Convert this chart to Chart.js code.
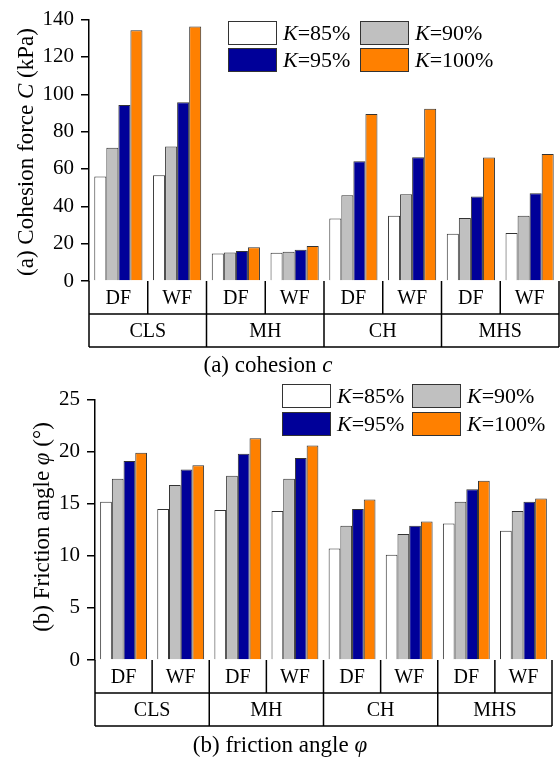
<!DOCTYPE html>
<html>
<head>
<meta charset="utf-8">
<script src="https://cdn.jsdelivr.net/npm/chart.js@4.4.1/dist/chart.umd.min.js"></script>
<style>
  body { margin: 0; background: #fff; }
  canvas { display: block; }
</style>
</head>
<body>
<canvas id="chartA" width="560" height="380"></canvas>
<canvas id="chartB" width="560" height="381"></canvas>
<script>
// categories
const soils = ['CLS', 'MH', 'CH', 'MHS'];
const states = ['DF', 'WF'];
const kLevels = ['85%', '90%', '95%', '100%'];
const categories = ['CLS-DF', 'CLS-WF', 'MH-DF', 'MH-WF', 'CH-DF', 'CH-WF', 'MHS-DF', 'MHS-WF'];

// cohesion C (kPa)
const cohesionK85 = [56.0, 56.7, 14.7, 15.1, 33.5, 34.9, 25.3, 25.7];
const cohesionK90 = [71.4, 72.1, 15.2, 15.6, 45.9, 46.4, 33.7, 34.9];
const cohesionK95 = [94.3, 95.7, 16.1, 16.7, 64.1, 66.3, 45.2, 47.0];
const cohesionK100 = [134.3, 136.3, 18.1, 18.8, 89.5, 92.3, 66.1, 68.0];

// friction angle (deg)
const frictionK85 = [15.2, 14.5, 14.4, 14.3, 10.7, 10.1, 13.1, 12.4];
const frictionK90 = [17.4, 16.8, 17.7, 17.4, 12.9, 12.1, 15.2, 14.3];
const frictionK95 = [19.1, 18.3, 19.8, 19.4, 14.5, 12.9, 16.4, 15.2];
const frictionK100 = [19.9, 18.7, 21.3, 20.6, 15.4, 13.3, 17.2, 15.5];

const colors = ['#ffffff', '#c0c0c0', '#000099', '#ff8000'];
const FONT = "'Liberation Serif', 'Times New Roman', serif";

function makeDatasets(series) {
    return series.map((data, i) => ({
        label: 'K=' + kLevels[i],
        data: data,
        backgroundColor: colors[i],
        borderColor: '#333333',
        borderWidth: 1,
        borderSkipped: 'bottom',
        categoryPercentage: 0.82,
        barPercentage: 1.0
    }));
}

// draw a line of text made of normal / italic parts
function drawRich(ctx, parts, x, y, size, align) {
    let total = 0;
    parts.forEach(p => {
        ctx.font = (p.italic ? 'italic ' : '') + size + 'px ' + FONT;
        total += ctx.measureText(p.text).width;
    });
    let cx = align === 'center' ? x - total / 2 : x;
    ctx.textAlign = 'left';
    ctx.textBaseline = 'middle';
    parts.forEach(p => {
        ctx.font = (p.italic ? 'italic ' : '') + size + 'px ' + FONT;
        ctx.fillText(p.text, cx, y);
        cx += ctx.measureText(p.text).width;
    });
}

// plugin: table under the x axis, legend, captions, y title
const decorPlugin = {
    id: 'decor',
    afterDraw(chart, args, opts) {
        const ctx = chart.ctx;
        const area = chart.chartArea;
        const xs = chart.scales.x;
        const n = categories.length;
        const step = (area.right - area.left) / n;
        const top = area.bottom;
        const mid = top + opts.rowH;
        const bot = mid + opts.rowH;

        ctx.save();
        ctx.strokeStyle = '#000';
        ctx.lineWidth = 1.5;
        ctx.beginPath();
        ctx.moveTo(area.left, mid); ctx.lineTo(area.right, mid);
        ctx.moveTo(area.left, bot); ctx.lineTo(area.right, bot);
        for (let i = 0; i <= n; i++) {
            const x = area.left + i * step;
            ctx.moveTo(x, top);
            ctx.lineTo(x, (i % 2 === 0) ? bot : mid);
        }
        ctx.stroke();

        ctx.fillStyle = '#000';
        ctx.textAlign = 'center';
        ctx.textBaseline = 'middle';
        ctx.font = '20px ' + FONT;
        categories.forEach((c, i) => {
            const x = xs.getPixelForValue(i);
            ctx.fillText(states[i % 2], x, (top + mid) / 2 + 1);
        });
        soils.forEach((s, j) => {
            const x = (xs.getPixelForValue(2 * j) + xs.getPixelForValue(2 * j + 1)) / 2;
            ctx.fillText(s, x, (mid + bot) / 2 + 1);
        });

        // caption
        drawRich(ctx, opts.caption, opts.captionX, opts.captionY, 23, 'center');

        // y title
        ctx.save();
        ctx.translate(opts.titleX, opts.titleY);
        ctx.rotate(-Math.PI / 2);
        drawRich(ctx, opts.yTitle, 0, 0, 23, 'center');
        ctx.restore();

        // legend
        const L = opts.legend;
        chart.data.datasets.forEach((ds, i) => {
            const col = i % 2, row = Math.floor(i / 2);
            const bx = L.x[col], by = L.y[row];
            ctx.fillStyle = ds.backgroundColor;
            ctx.fillRect(bx, by, L.w, L.h);
            ctx.strokeStyle = '#333';
            ctx.lineWidth = 1;
            ctx.strokeRect(bx + 0.5, by + 0.5, L.w - 1, L.h - 1);
            ctx.fillStyle = '#000';
            drawRich(ctx, [{ text: 'K', italic: true }, { text: '=' + kLevels[i] }],
                     bx + L.w + 6, by + L.h / 2 + 1, 22, 'left');
        });
        ctx.restore();
    }
};

function makeChart(id, series, yMax, yStep, yWidth, padding, decor) {
    return new Chart(document.getElementById(id), {
        type: 'bar',
        data: { labels: categories, datasets: makeDatasets(series) },
        plugins: [decorPlugin],
        options: {
            responsive: false,
            animation: false,
            devicePixelRatio: 1,
            layout: { padding: padding },
            plugins: {
                legend: { display: false },
                tooltip: { enabled: false },
                decor: decor
            },
            scales: {
                x: { display: false, offset: true },
                y: {
                    min: 0, max: yMax,
                    afterFit(scale) { scale.width = yWidth; },
                    ticks: {
                        stepSize: yStep,
                        color: '#000',
                        padding: 7,
                        font: { family: FONT, size: 21 }
                    },
                    grid: { display: true, drawOnChartArea: false, drawTicks: true, tickLength: 8, color: '#000', lineWidth: 1.5 },
                    border: { display: true, color: '#000', width: 1.5 }
                }
            }
        }
    });
}

makeChart('chartA', [cohesionK85, cohesionK90, cohesionK95, cohesionK100], 140, 20, 89,
    { top: 18, right: 1, bottom: 99, left: 0 },
    {
        rowH: 33,
        caption: [{ text: '(a) cohesion ' }, { text: 'c', italic: true }],
        captionX: 268, captionY: 366,
        yTitle: [{ text: '(a) Cohesion force ' }, { text: 'C', italic: true }, { text: ' (kPa)' }],
        titleX: 27, titleY: 152,
        legend: { x: [228, 360], y: [21, 48], w: 49, h: 24 }
    });

makeChart('chartB', [frictionK85, frictionK90, frictionK95, frictionK100], 25, 5, 95,
    { top: 16, right: 8, bottom: 101, left: 0 },
    {
        rowH: 33,
        caption: [{ text: '(b) friction angle ' }, { text: '\u03c6', italic: true }],
        captionX: 280, captionY: 366,
        yTitle: [{ text: '(b) Friction angle ' }, { text: '\u03c6', italic: true }, { text: ' (\u00b0)' }],
        titleX: 43, titleY: 147,
        legend: { x: [282, 412], y: [4, 32], w: 49, h: 24 }
    });
</script>
</body>
</html>
